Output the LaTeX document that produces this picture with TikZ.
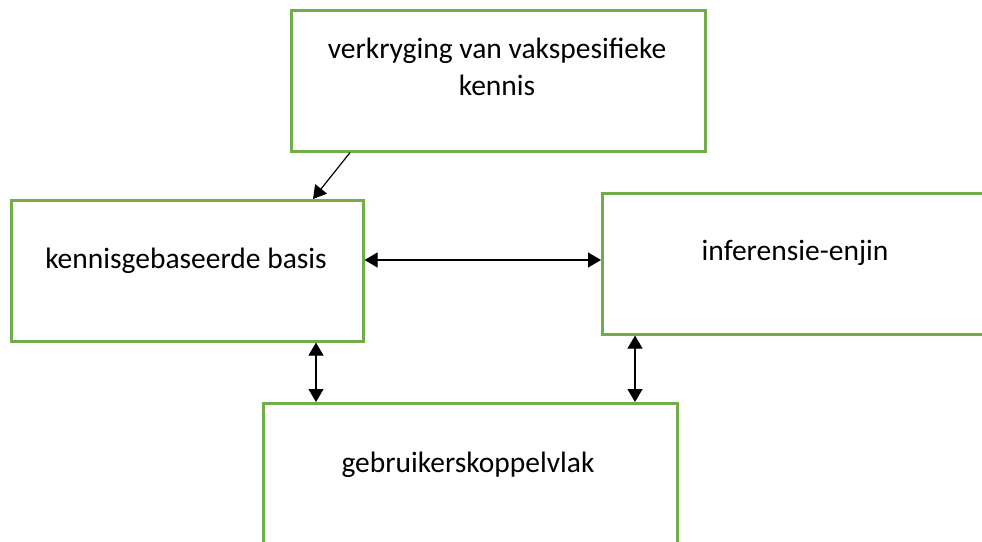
\documentclass[tikz,border=0pt]{standalone}
\usepackage{fontspec}
\setmainfont{Carlito}
\usetikzlibrary{calc,arrows.meta}
\definecolor{boxgreen}{HTML}{70AD47}
\tikzset{
  gbox/.style={draw=boxgreen, line width=2.6pt, minimum width=#1, inner sep=0pt, anchor=north west},
  lbl/.style={anchor=base, inner sep=0pt, font=\fontsize{29.5}{35}\selectfont},
  arr/.style={line width=1.2pt, -{Triangle[length=13pt,width=15pt]}},
  dbl/.style={line width=1.2pt, {Triangle[length=13pt,width=15pt]}-{Triangle[length=13pt,width=15pt]}},
}
\begin{document}
\begin{tikzpicture}[x=1pt,y=-1pt]
\useasboundingbox (0,0) rectangle (982,541);
\clip (0,0) rectangle (982,541);
\fill[white] (0,0) rectangle (982,541);
\node[gbox=414pt, minimum height=141pt] (top) at (290,9) {};
\node[gbox=352pt, minimum height=141pt] (left) at (10,199) {};
\node[gbox=420pt, minimum height=141pt] (right) at (601,192) {};
\node[gbox=414pt, minimum height=200pt] (bottom) at (262,402) {};
\node[lbl] (t1) at (497,58) {verkryging van vakspesifieke};
\node[lbl] (t2) at (497,95) {kennis};
\node[lbl] (t3) at (186,268) {kennisgebaseerde basis};
\node[lbl] (t4) at (795,260) {inferensie-enjin};
\node[lbl] (t5) at (468,472) {gebruikerskoppelvlak};
\draw[arr] ($(top.south west)+(60,0)$) -- ($(left.north west)+(303,0)$);
\draw[dbl] ($(left.north east)+(0,61)$) -- ($(right.north west)+(0,68)$);
\draw[dbl] ($(left.south west)+(306,0)$) -- ($(bottom.north west)+(54,0)$);
\draw[dbl] ($(right.south west)+(34,0)$) -- ($(bottom.north west)+(373,0)$);
\end{tikzpicture}
\end{document}
